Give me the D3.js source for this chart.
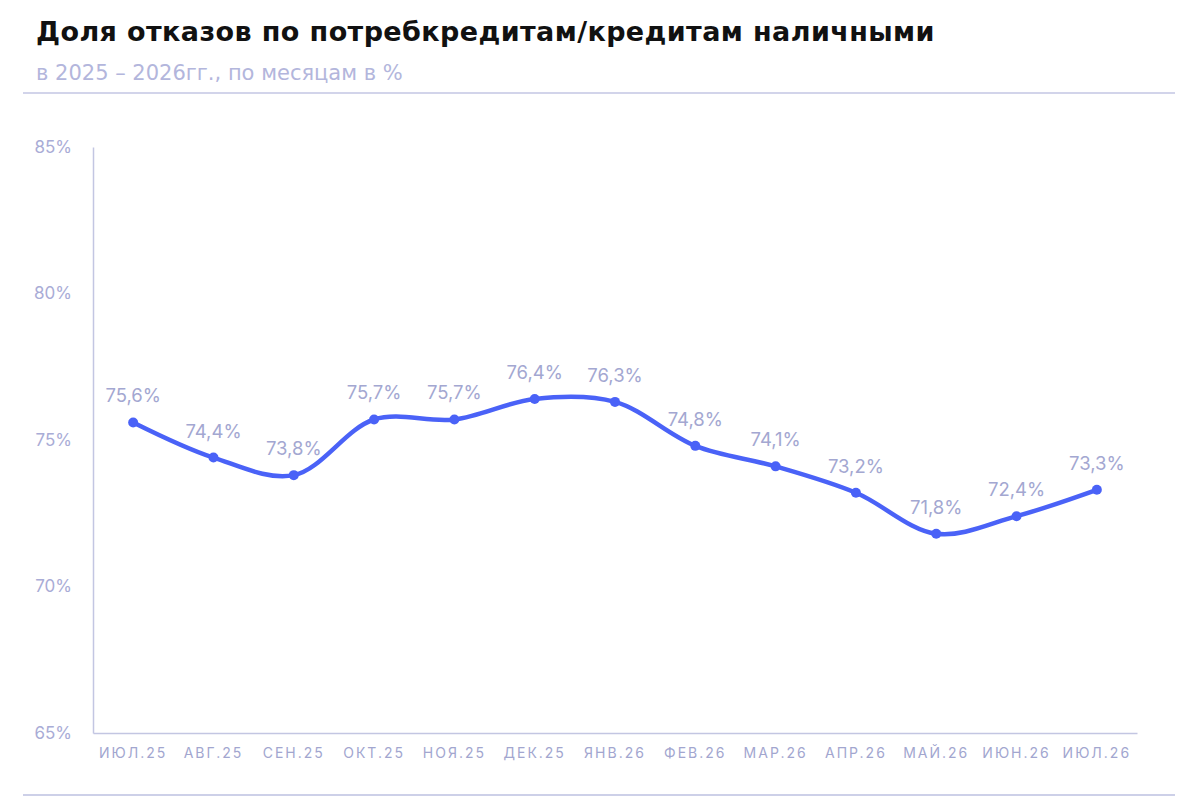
<!DOCTYPE html>
<html>
<head>
<meta charset="utf-8">
<script src="https://cdn.jsdelivr.net/npm/d3@7"></script>
<style>
	body { margin: 0; background: #fff; }
	svg { font-family: Inter, "Noto Sans", sans-serif; }
</style>
</head>
<body>
<svg id="chart" width="1200" height="800"></svg>
<script>
const months = ["ИЮЛ.25", "АВГ.25", "СЕН.25", "ОКТ.25", "НОЯ.25", "ДЕК.25", "ЯНВ.26",
				"ФЕВ.26", "МАР.26", "АПР.26", "МАЙ.26", "ИЮН.26", "ИЮЛ.26"];
const rejectShare = [75.6, 74.4, 73.8, 75.7, 75.7, 76.4, 76.3, 74.8, 74.1, 73.2, 71.8, 72.4, 73.3];
const yTicks = [65, 70, 75, 80, 85];

const WIDTH = 1200,
	MARGINS = { top: 147, right: 63, bottom: 67, left: 93 },
	HEIGHT = 800;

let svg = d3.select("#chart");

// header
svg.append("text")
	.attr("x", 36).attr("y", 41)
	.attr("font-size", 27).attr("font-weight", 700)
	.attr("letter-spacing", "0.4px")
	.style("font-family", "'DejaVu Sans', sans-serif")
	.attr("fill", "#111")
	.text("Доля отказов по потребкредитам/кредитам наличными");

svg.append("text")
	.attr("x", 36).attr("y", 80)
	.attr("font-size", 21)
	.style("font-family", "'DejaVu Sans', sans-serif")
	.attr("fill", "#b3b6dc")
	.text("в 2025 – 2026гг., по месяцам в %");

svg.append("line")
	.attr("x1", 23).attr("x2", 1175).attr("y1", 93).attr("y2", 93)
	.attr("stroke", "#c3c6e3").attr("stroke-width", 1.3);

svg.append("line")
	.attr("x1", 23).attr("x2", 1175).attr("y1", 795).attr("y2", 795)
	.attr("stroke", "#bdc0e1").attr("stroke-width", 1.3);

let xScale = d3.scaleBand()
		.domain(months)
		.range([MARGINS.left, WIDTH - MARGINS.right]),
	yScale = d3.scaleLinear()
		.domain([65, 85])
		.range([HEIGHT - MARGINS.bottom, MARGINS.top]);

const cx = function (m) { return xScale(m) + xScale.bandwidth() / 2; };

// axes
let xAxis = d3.axisBottom(xScale).tickSize(0).tickPadding(15);
let gx = svg.append("g")
	.attr("transform", "translate(0," + (HEIGHT - MARGINS.bottom) + ")")
	.call(xAxis);
gx.select(".domain").attr("stroke", "#c3c6e2").attr("stroke-width", 1.5);
gx.selectAll("text")
	.attr("font-size", 14)
	.attr("fill", "#a2a6cf")
	.attr("letter-spacing", "2px")
	.style("font-family", "Inter, sans-serif");

let yAxis = d3.axisLeft(yScale)
	.tickValues(yTicks)
	.tickSize(0)
	.tickPadding(21)
	.tickFormat(function (d) { return d + "%"; });
let gy = svg.append("g")
	.attr("transform", "translate(" + MARGINS.left + ",0)")
	.call(yAxis);
gy.select(".domain").attr("stroke", "#c3c6e2").attr("stroke-width", 1.5);
gy.selectAll("text")
	.attr("font-size", 17)
	.attr("fill", "#a9acd6")
	.style("font-family", "Inter, sans-serif");

// line
let lineGen = d3.line()
	.x(function (d, i) { return cx(months[i]); })
	.y(function (d) { return yScale(d); })
	.curve(d3.curveCatmullRom.alpha(0.5));

svg.append("path")
	.attr("d", lineGen(rejectShare))
	.attr("fill", "none")
	.attr("stroke", "#4a62f7")
	.attr("stroke-width", 4.5)
	.attr("stroke-linecap", "round");

svg.selectAll(".dot")
	.data(rejectShare)
	.enter().append("circle")
	.attr("cx", function (d, i) { return cx(months[i]); })
	.attr("cy", function (d) { return yScale(d); })
	.attr("r", 5)
	.attr("fill", "#4a62f7");

svg.selectAll(".val")
	.data(rejectShare)
	.enter().append("text")
	.attr("x", function (d, i) { return cx(months[i]); })
	.attr("y", function (d) { return yScale(d) - 20; })
	.attr("text-anchor", "middle")
	.attr("font-size", 18.5)
	.attr("fill", "#a3a7d1")
	.text(function (d) { return d.toFixed(1).replace(".", ",") + "%"; });
</script>
</body>
</html>
